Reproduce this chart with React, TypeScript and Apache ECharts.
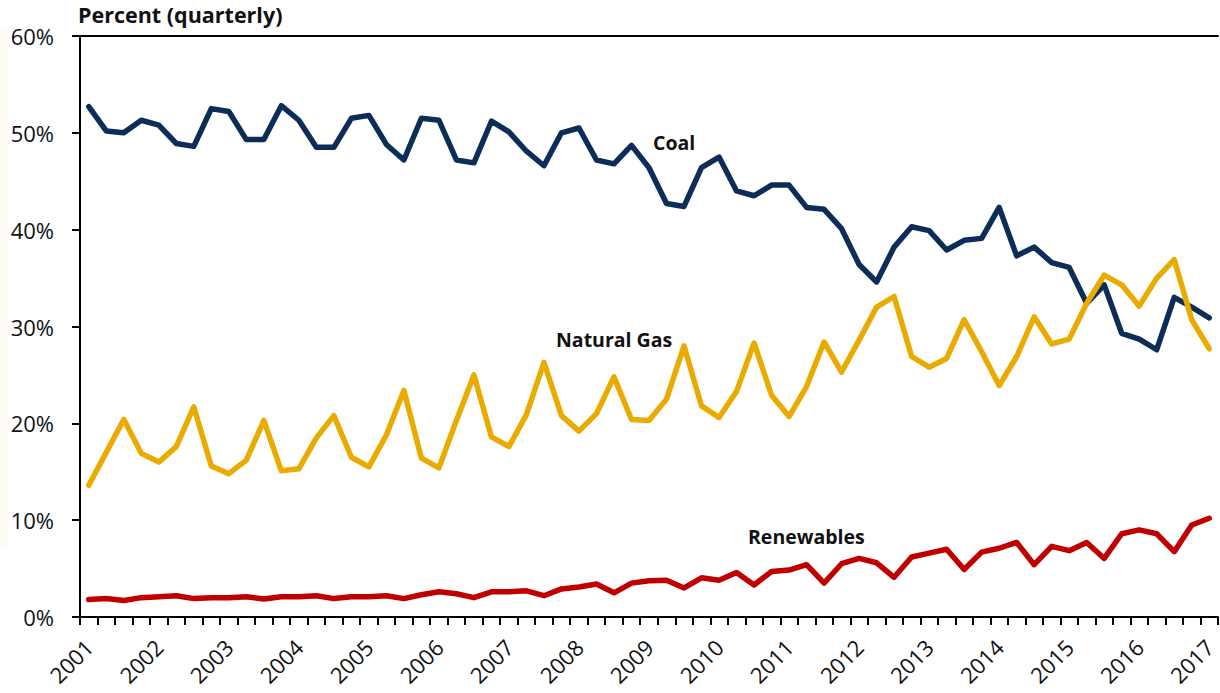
import React, { useEffect, useRef } from "react";
import * as echarts from "echarts";

const years = [2001, 2002, 2003, 2004, 2005, 2006, 2007, 2008, 2009, 2010, 2011, 2012, 2013, 2014, 2015, 2016, 2017];
const quarters: string[] = [];
for (const y of years) {
  for (let q = 1; q <= 4; q++) {
    if (y === 2017 && q > 1) break;
    quarters.push(`${y} Q${q}`);
  }
}

const coal = [
  52.7, 50.2, 50.0, 51.3, 50.8, 48.9, 48.6, 52.5, 52.2, 49.3, 49.3, 52.8, 51.3, 48.5, 48.5, 51.5,
  51.8, 48.8, 47.2, 51.5, 51.3, 47.2, 46.9, 51.2, 50.1, 48.1, 46.6, 50.0, 50.5, 47.2, 46.8, 48.7,
  46.4, 42.7, 42.4, 46.4, 47.5, 44.0, 43.5, 44.6, 44.6, 42.3, 42.1, 40.1, 36.4, 34.6, 38.2, 40.3,
  39.9, 37.9, 38.9, 39.1, 42.3, 37.3, 38.2, 36.6, 36.1, 32.4, 34.3, 29.3, 28.7, 27.6, 33.0, 32.0,
  30.9,
];

const naturalGas = [
  13.6, 17.0, 20.4, 16.9, 16.0, 17.6, 21.7, 15.6, 14.8, 16.2, 20.3, 15.1, 15.3, 18.5, 20.8, 16.5,
  15.5, 18.8, 23.4, 16.4, 15.4, 20.3, 25.0, 18.6, 17.6, 20.9, 26.3, 20.8, 19.2, 21.0, 24.8, 20.4,
  20.3, 22.5, 28.0, 21.8, 20.6, 23.3, 28.3, 22.9, 20.7, 23.8, 28.4, 25.3, 28.6, 32.0, 33.1, 26.9,
  25.8, 26.7, 30.7, 27.4, 23.9, 26.9, 31.0, 28.2, 28.7, 32.4, 35.3, 34.3, 32.1, 35.0, 36.9, 30.7,
  27.7,
];

const renewables = [
  1.8, 1.9, 1.7, 2.0, 2.1, 2.2, 1.9, 2.0, 2.0, 2.1, 1.85, 2.1, 2.1, 2.2, 1.9, 2.1,
  2.1, 2.2, 1.9, 2.3, 2.6, 2.4, 2.0, 2.6, 2.6, 2.7, 2.2, 2.9, 3.1, 3.4, 2.5, 3.5,
  3.75, 3.8, 3.0, 4.05, 3.8, 4.6, 3.3, 4.7, 4.85, 5.4, 3.5, 5.5, 6.05, 5.6, 4.1, 6.2,
  6.6, 7.0, 4.9, 6.7, 7.1, 7.7, 5.4, 7.3, 6.85, 7.7, 6.05, 8.6, 9.0, 8.6, 6.75, 9.5,
  10.2,
];

const yTicks = { min: 0, max: 60, interval: 10 };

const FONT = "'Open Sans', 'DejaVu Sans', sans-serif";

export default function App() {
  const ref = useRef<HTMLDivElement>(null);

  useEffect(() => {
    if (!ref.current) return;
    const chart = echarts.init(ref.current, undefined, { renderer: "svg" });
    const lineSeries = (name: string, data: number[], color: string) => ({
      name,
      type: "line",
      data,
      symbol: "none",
      lineStyle: { color, width: 5.5, join: "round", cap: "round" },
      itemStyle: { color },
    });
    chart.setOption({
      animation: false,
      backgroundColor: "#ffffff",
      grid: { left: 80, right: 2, top: 36, bottom: 76, containLabel: false },
      xAxis: [
        {
          type: "category",
          data: quarters,
          boundaryGap: true,
          axisLine: { lineStyle: { color: "#000", width: 2 } },
          axisTick: { show: true, interval: 0, length: 8, lineStyle: { color: "#000", width: 2 } },
          axisLabel: {
            interval: 3,
            rotate: 45,
            margin: 26,
            color: "#111",
            fontSize: 22,
            fontFamily: FONT,
            formatter: (v: string) => v.split(" ")[0],
          },
          splitLine: { show: false },
        },
        {
          type: "category",
          data: quarters,
          position: "top",
          axisLine: { show: true, lineStyle: { color: "#000", width: 2 } },
          axisTick: { show: false },
          axisLabel: { show: false },
          splitLine: { show: false },
        },
      ],
      yAxis: {
        type: "value",
        min: yTicks.min,
        max: yTicks.max,
        interval: yTicks.interval,
        axisLine: { show: true, lineStyle: { color: "#000", width: 2 } },
        axisTick: { show: true, length: 8, lineStyle: { color: "#000", width: 2 } },
        axisLabel: {
          formatter: "{value}%",
          color: "#111",
          fontSize: 22,
          fontFamily: FONT,
          margin: 26,
        },
        splitLine: { show: false },
      },
      series: [
        lineSeries("Coal", coal, "#0B2D57"),
        lineSeries("Natural Gas", naturalGas, "#EAAB00"),
        lineSeries("Renewables", renewables, "#C00000"),
      ],
      graphic: [
        {
          type: "rect",
          shape: { x: 0, y: 28, width: 8, height: 520 },
          style: { fill: "rgba(252, 232, 190, 0.15)" },
          silent: true,
        },
        {
          type: "text",
          left: 78,
          top: 3,
          style: { text: "Percent (quarterly)", font: `bold 21.5px ${FONT}`, fill: "#111" },
        },
        {
          type: "text",
          left: 653,
          top: 132,
          style: { text: "Coal", font: `bold 19.5px ${FONT}`, fill: "#111" },
        },
        {
          type: "text",
          left: 556,
          top: 329,
          style: { text: "Natural Gas", font: `bold 19.5px ${FONT}`, fill: "#111" },
        },
        {
          type: "text",
          left: 748,
          top: 526,
          style: { text: "Renewables", font: `bold 19.5px ${FONT}`, fill: "#111" },
        },
      ],
    });
    return () => chart.dispose();
  }, []);

  return (
    <div
      ref={ref}
      style={{ position: "absolute", left: 0, top: 0, width: 1220, height: 693 }}
    />
  );
}
